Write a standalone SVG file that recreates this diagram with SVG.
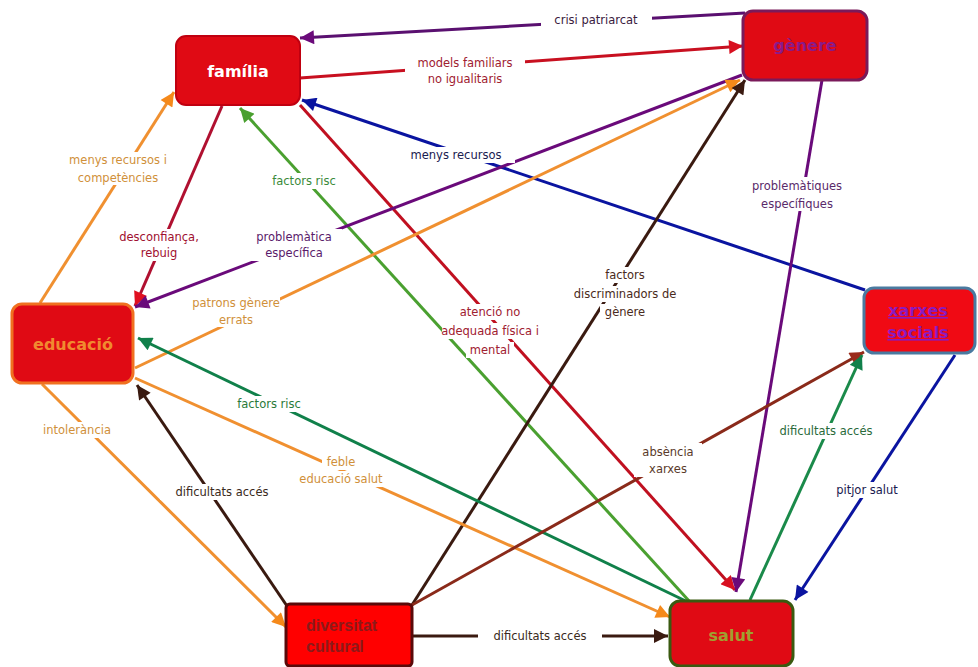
<svg xmlns="http://www.w3.org/2000/svg" width="978" height="667" viewBox="0 0 978 667">
<defs>
<style>
.c{fill:none;stroke-width:3}
.l{font-family:"DejaVu Sans","Liberation Sans",sans-serif;font-size:11.5px;text-anchor:middle}
.bg{fill:#fff}
.n{font-family:"DejaVu Sans","Liberation Sans",sans-serif;font-weight:bold;font-size:16px;text-anchor:middle}
</style>
<marker id="m-pu" viewBox="0 0 10 10" refX="10" refY="5" markerWidth="19" markerHeight="14" markerUnits="userSpaceOnUse" orient="auto"><path d="M0,0L10,5L0,10z" fill="#6a0a7a"/></marker>
<marker id="m-rd" viewBox="0 0 10 10" refX="10" refY="5" markerWidth="19" markerHeight="14" markerUnits="userSpaceOnUse" orient="auto"><path d="M0,0L10,5L0,10z" fill="#d81020"/></marker>
<marker id="m-bl" viewBox="0 0 10 10" refX="10" refY="5" markerWidth="19" markerHeight="14" markerUnits="userSpaceOnUse" orient="auto"><path d="M0,0L10,5L0,10z" fill="#0a14a0"/></marker>
<marker id="m-dr" viewBox="0 0 10 10" refX="10" refY="5" markerWidth="19" markerHeight="14" markerUnits="userSpaceOnUse" orient="auto"><path d="M0,0L10,5L0,10z" fill="#e01020"/></marker>
<marker id="m-or" viewBox="0 0 10 10" refX="10" refY="5" markerWidth="19" markerHeight="14" markerUnits="userSpaceOnUse" orient="auto"><path d="M0,0L10,5L0,10z" fill="#f5891a"/></marker>
<marker id="m-lg" viewBox="0 0 10 10" refX="10" refY="5" markerWidth="19" markerHeight="14" markerUnits="userSpaceOnUse" orient="auto"><path d="M0,0L10,5L0,10z" fill="#4aa030"/></marker>
<marker id="m-br" viewBox="0 0 10 10" refX="10" refY="5" markerWidth="19" markerHeight="14" markerUnits="userSpaceOnUse" orient="auto"><path d="M0,0L10,5L0,10z" fill="#3a1a10"/></marker>
<marker id="m-dg" viewBox="0 0 10 10" refX="10" refY="5" markerWidth="19" markerHeight="14" markerUnits="userSpaceOnUse" orient="auto"><path d="M0,0L10,5L0,10z" fill="#10804a"/></marker>
<marker id="m-rb" viewBox="0 0 10 10" refX="10" refY="5" markerWidth="19" markerHeight="14" markerUnits="userSpaceOnUse" orient="auto"><path d="M0,0L10,5L0,10z" fill="#9a2a1a"/></marker>
</defs>
<rect width="978" height="667" fill="#fff"/>
<g id="connectors">
<path class="c" d="M745,13 L300,38" stroke="#5a1070" marker-end="url(#m-pu)"/>
<path class="c" d="M300,78 L743,46" stroke="#c81020" marker-end="url(#m-rd)"/>
<path class="c" d="M865,290 L302,100" stroke="#0a14a0" marker-end="url(#m-bl)"/>
<path class="c" d="M222,106 L135,306" stroke="#b01030" marker-end="url(#m-dr)"/>
<path class="c" d="M40,303 L174,92" stroke="#f09030" marker-end="url(#m-or)"/>
<path class="c" d="M690,602 L240,108" stroke="#4aa030" marker-end="url(#m-lg)"/>
<path class="c" d="M300,105 L735,590" stroke="#c01020" marker-end="url(#m-rd)"/>
<path class="c" d="M742,75 L135,307" stroke="#6a0a7a" marker-end="url(#m-pu)"/>
<path class="c" d="M135,368 L740,80" stroke="#f09030" marker-end="url(#m-or)"/>
<path class="c" d="M412,605 L745,80" stroke="#3a1a10" marker-end="url(#m-br)"/>
<path class="c" d="M822,80 L736,592" stroke="#6a0a7a" marker-end="url(#m-pu)"/>
<path class="c" d="M692,604 L138,338" stroke="#10804a" marker-end="url(#m-dg)"/>
<path class="c" d="M135,378 L670,617" stroke="#f09030" marker-end="url(#m-or)"/>
<path class="c" d="M42,384 L286,627" stroke="#f09030" marker-end="url(#m-or)"/>
<path class="c" d="M287,606 L137,385" stroke="#3a1a10" marker-end="url(#m-br)"/>
<path class="c" d="M412,605 L864,352" stroke="#8a2a1a" marker-end="url(#m-rb)"/>
<path class="c" d="M750,600 L862,355" stroke="#1a8a4a" marker-end="url(#m-dg)"/>
<path class="c" d="M955,355 L795,600" stroke="#0a14a0" marker-end="url(#m-bl)"/>
<path class="c" d="M412,636 L668,636" stroke="#3a1a10" marker-end="url(#m-br)"/>
</g>
<g id="labels">
<rect class="bg" x="541" y="12" width="111" height="16"/><text class="l" x="596" y="24" fill="#3a2040">crisi patriarcat</text>
<rect class="bg" x="405" y="55" width="120" height="32"/><text class="l" x="465" y="67" fill="#a02030">models familiars</text><text class="l" x="465" y="83" fill="#a02030">no igualitaris</text>
<rect class="bg" x="399" y="147" width="116" height="16"/><text class="l" x="456" y="159" fill="#1a2050">menys recursos</text>
<rect class="bg" x="115" y="229" width="88" height="32"/><text class="l" x="159" y="241" fill="#a01030">desconfiança,</text><text class="l" x="159" y="257" fill="#a01030">rebuig</text>
<rect class="bg" x="58" y="152" width="122" height="33"/><text class="l" x="118" y="164" fill="#d0903a">menys recursos i</text><text class="l" x="118" y="182" fill="#d0903a">competències</text>
<rect class="bg" x="261" y="173" width="86" height="16"/><text class="l" x="304" y="185" fill="#3a8a3a">factors risc</text>
<rect class="bg" x="246" y="229" width="96" height="32"/><text class="l" x="294" y="241" fill="#5a1a6a">problemàtica</text><text class="l" x="294" y="257" fill="#5a1a6a">específica</text>
<rect class="bg" x="192" y="295" width="88" height="32"/><text class="l" x="236" y="307" fill="#d0903a">patrons gènere</text><text class="l" x="236" y="324" fill="#d0903a">errats</text>
<rect class="bg" x="456" y="304" width="68" height="16"/><rect class="bg" x="442" y="323" width="98" height="16"/><rect class="bg" x="466" y="342" width="48" height="16"/>
<text class="l" x="490" y="316" fill="#a02030">atenció no</text><text class="l" x="490" y="335" fill="#a02030">adequada física i</text><text class="l" x="490" y="354" fill="#a02030">mental</text>
<rect class="bg" x="600" y="267" width="50" height="16"/><rect class="bg" x="572" y="286" width="106" height="16"/><rect class="bg" x="600" y="304" width="50" height="16"/>
<text class="l" x="625" y="279" fill="#4a2a20">factors</text><text class="l" x="625" y="298" fill="#4a2a20">discriminadors de</text><text class="l" x="625" y="316" fill="#4a2a20">gènere</text>
<rect class="bg" x="748" y="177" width="100" height="34"/><text class="l" x="797" y="190" fill="#5a2a6a">problemàtiques</text><text class="l" x="797" y="208" fill="#5a2a6a">específiques</text>
<rect class="bg" x="227" y="396" width="84" height="16"/><text class="l" x="269" y="408" fill="#2a7a3a">factors risc</text>
<rect class="bg" x="322" y="454" width="38" height="16"/><rect class="bg" x="294" y="471" width="94" height="16"/>
<text class="l" x="341" y="466" fill="#d0903a">feble</text><text class="l" x="341" y="483" fill="#d0903a">educació salut</text>
<rect class="bg" x="39" y="422" width="76" height="16"/><text class="l" x="77" y="434" fill="#d0903a">intolerància</text>
<rect class="bg" x="160" y="484" width="124" height="16"/><text class="l" x="222" y="496" fill="#3a2a20">dificultats accés</text>
<rect class="bg" x="634" y="443" width="68" height="34"/><text class="l" x="668" y="456" fill="#5a3a2a">absència</text><text class="l" x="668" y="473" fill="#5a3a2a">xarxes</text>
<rect class="bg" x="766" y="423" width="122" height="16"/><text class="l" x="826" y="435" fill="#2a6a3a">dificultats accés</text>
<rect class="bg" x="827" y="482" width="80" height="16"/><text class="l" x="867" y="494" fill="#1a1a50">pitjor salut</text>
<rect class="bg" x="478" y="628" width="124" height="16"/><text class="l" x="540" y="640" fill="#3a2a20">dificultats accés</text>
</g>
<g id="familia"><rect x="176" y="36" width="124" height="69" rx="10" fill="#e00a14" stroke="#c00010" stroke-width="2"/><text class="n" x="238" y="77" fill="#fff" font-size="17">família</text></g>
<g id="genere"><rect x="743" y="11" width="124" height="69" rx="10" fill="#e00a14" stroke="#7a1a5a" stroke-width="3"/><text class="n" x="805" y="51" fill="#8a1a8a" font-size="17" font-weight="normal">gènere</text></g>
<g id="educacio"><rect x="12" y="304" width="121" height="79" rx="10" fill="#e00a14" stroke="#f07020" stroke-width="3"/><text class="n" x="73" y="350" fill="#f08a30">educació</text></g>
<g id="xarxes"><rect x="864" y="288" width="111" height="65" rx="10" fill="#f00a14" stroke="#4a7aa0" stroke-width="3"/><text class="n" x="918" y="316" fill="#8a1ac0" text-decoration="underline" font-size="15">xarxes</text><text class="n" x="918" y="338" fill="#8a1ac0" text-decoration="underline" font-size="15">socials</text></g>
<g id="diversitat"><rect x="286" y="604" width="126" height="62" rx="4" fill="#ff0000" stroke="#5a0a0a" stroke-width="3"/><text x="306" y="631" fill="#8b1a1a" font-family="Liberation Sans,Arial,sans-serif" font-weight="bold" font-size="16">diversitat</text><text x="306" y="652" fill="#8b1a1a" font-family="Liberation Sans,Arial,sans-serif" font-weight="bold" font-size="16">cultural</text></g>
<g id="salut"><rect x="670" y="601" width="123" height="65" rx="10" fill="#e00a14" stroke="#3a5a10" stroke-width="3"/><text class="n" x="731" y="641" fill="#a0a030" font-size="17">salut</text></g>
</svg>
